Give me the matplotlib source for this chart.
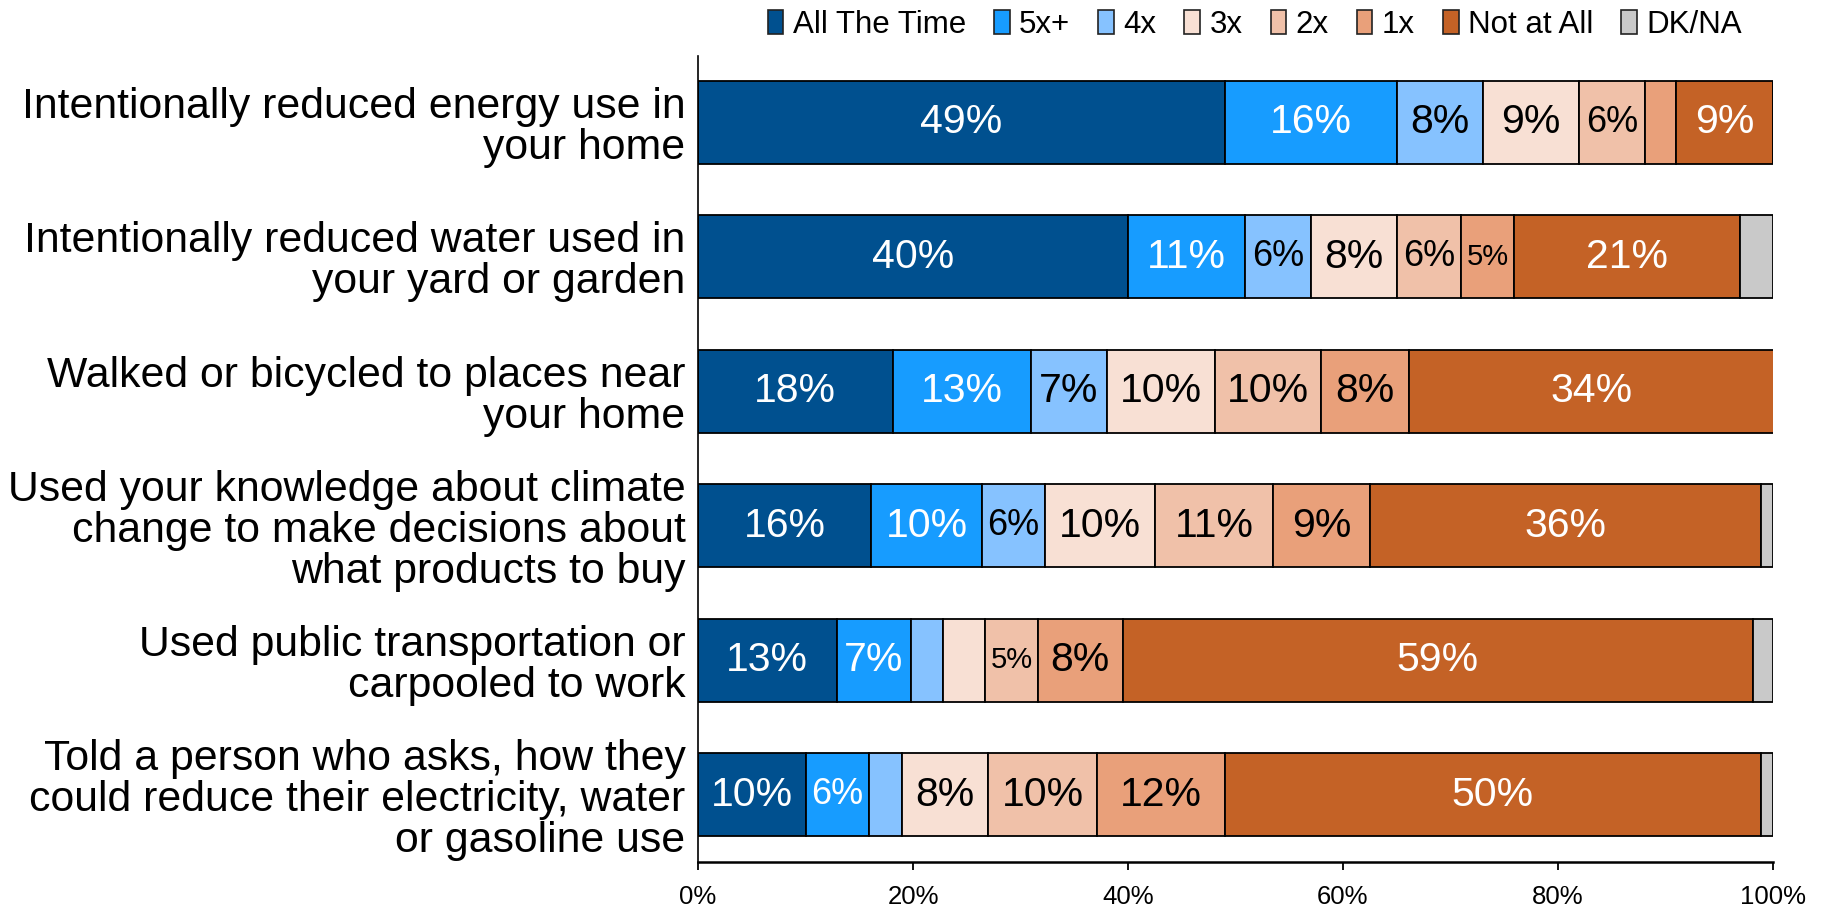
import numpy as np
import matplotlib
matplotlib.use('Agg')
import matplotlib.pyplot as plt
from matplotlib.patches import Patch
from matplotlib.ticker import PercentFormatter

plt.rcParams['font.family'] = ['Liberation Sans', 'DejaVu Sans']

questions = [
    'Intentionally reduced energy use in\nyour home',
    'Intentionally reduced water used in\nyour yard or garden',
    'Walked or bicycled to places near\nyour home',
    'Used your knowledge about climate\nchange to make decisions about\nwhat products to buy',
    'Used public transportation or\ncarpooled to work',
    'Told a person who asks, how they\ncould reduce their electricity, water\nor gasoline use',
]
categories = ['All The Time', '5x+', '4x', '3x', '2x', '1x', 'Not at All', 'DK/NA']

# percent per category, one list per category (rows follow `questions`)
all_the_time = [49.0, 40.0, 18.1, 16.1, 12.9, 10.0]
five_plus = [16.0, 10.9, 12.9, 10.3, 6.9, 5.9]
four_x = [8.0, 6.1, 7.0, 5.9, 3.0, 3.1]
three_x = [9.0, 8.0, 10.1, 10.2, 3.9, 8.0]
two_x = [6.1, 6.0, 9.9, 11.0, 4.9, 10.1]
one_x = [2.9, 4.9, 8.1, 9.0, 7.9, 11.9]
not_at_all = [9.0, 21.0, 34.0, 36.4, 58.6, 49.9]
dk_na = [0.0, 3.1, 0.0, 1.1, 1.9, 1.1]

series = [all_the_time, five_plus, four_x, three_x, two_x, one_x, not_at_all, dk_na]
colors = ['#00508f', '#179cff', '#86c2ff', '#f8e0d4', '#f0c1a9', '#e9a07a', '#c46226', '#c9c9c9']
text_colors = ['white', 'white', 'black', 'black', 'black', 'black', 'white', 'black']

fig = plt.figure(figsize=(18.24, 9.08), dpi=100)
ax = fig.add_axes([0.3827, 0.0507, 0.5893, 0.8877])

y = np.arange(len(questions))
left = np.zeros(len(questions))
for vals, col, tcol in zip(series, colors, text_colors):
    vals = np.array(vals)
    ax.barh(y, vals, left=left, height=0.62, color=col, edgecolor='black', linewidth=1.3)
    for yi, (l, v) in enumerate(zip(left, vals)):
        if v < 4.5 or col == '#c9c9c9':
            continue
        # shrink the label to fit narrow segments
        fs = 29.5 if v >= 6.8 else (26 if v >= 5.5 else 21)
        ax.text(l + v / 2, yi, f'{v:.0f}%', ha='center', va='center',
                color=tcol, fontsize=fs)
    left += vals

ax.set_xlim(0, 100)
ax.set_ylim(5.5, -0.493)
ax.set_yticks(y)
ax.set_yticklabels(questions, fontsize=30.8, linespacing=1.03)
ax.tick_params(axis='y', length=0, pad=9)
ax.set_xticks([0, 20, 40, 60, 80, 100])
ax.xaxis.set_major_formatter(PercentFormatter(decimals=0))
ax.tick_params(axis='x', direction='out', length=5.5, width=1.3, labelsize=18.5, pad=11)
ax.spines['top'].set_visible(False)
ax.spines['right'].set_visible(False)
ax.spines['bottom'].set_linewidth(1.8)
ax.spines['left'].set_linewidth(1.2)

handles = [Patch(facecolor=c, edgecolor='#222222', linewidth=1.2) for c in colors]
fig.legend(handles, categories, loc='center', bbox_to_anchor=(0.688, 0.973), ncol=8,
           frameon=False, fontsize=22.5, handlelength=0.5, handleheight=0.8,
           handletextpad=0.3, columnspacing=0.9)

fig.savefig('out.png', dpi=100)
